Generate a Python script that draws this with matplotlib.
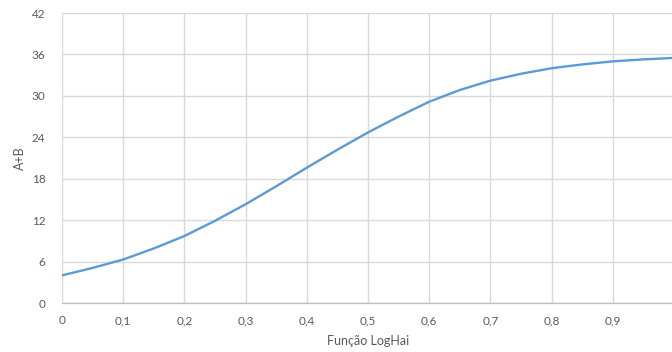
import numpy as np
import matplotlib.pyplot as plt

# Curve values sampled every 0.05 along the LogHai axis
x_vals = [0.0, 0.05, 0.1, 0.15, 0.2, 0.25, 0.3, 0.35, 0.4, 0.45, 0.5,
          0.55, 0.6, 0.65, 0.7, 0.75, 0.8, 0.85, 0.9, 0.95, 1.0]
ab_vals = [4.0, 5.08, 6.3, 7.9, 9.7, 11.9, 14.3, 16.9, 19.6, 22.2, 24.7,
           27.0, 29.15, 30.85, 32.2, 33.2, 34.0, 34.55, 35.0, 35.28, 35.5]

x_ticks = [0, 0.1, 0.2, 0.3, 0.4, 0.5, 0.6, 0.7, 0.8, 0.9, 1.0]
x_labels = ['0', '0,1', '0,2', '0,3', '0,4', '0,5', '0,6', '0,7', '0,8', '0,9', '1']
y_ticks = [0, 6, 12, 18, 24, 30, 36, 42]

plt.rcParams['font.family'] = ['Lato', 'DejaVu Sans']
text_color = '#595959'

fig = plt.figure(figsize=(6.72, 3.52), dpi=100)
ax = fig.add_axes([62 / 672, 49 / 352, 612 / 672, 290 / 352])

ax.plot(x_vals, ab_vals, color='#5b9bd5', linewidth=1.7,
        solid_capstyle='round', solid_joinstyle='round')

ax.set_xlim(0, 1)
ax.set_ylim(0, 42)
ax.set_xticks(x_ticks)
ax.set_xticklabels(x_labels)
ax.set_yticks(y_ticks)
ax.tick_params(axis='both', length=0, labelsize=8.5, colors=text_color)
ax.tick_params(axis='x', pad=9)
ax.tick_params(axis='y', pad=12)

ax.grid(True, color='#d9d9d9', linewidth=1.0)
ax.set_axisbelow(True)
for side in ['top', 'right', 'left']:
    ax.spines[side].set_visible(False)
ax.spines['bottom'].set_color('#bfbfbf')
ax.spines['bottom'].set_linewidth(1.0)

ax.set_xlabel('Função LogHai', fontsize=9, color=text_color, labelpad=6)
ax.set_ylabel('A+B', fontsize=9, color=text_color, labelpad=4)

plt.savefig('out.png', dpi=100)
